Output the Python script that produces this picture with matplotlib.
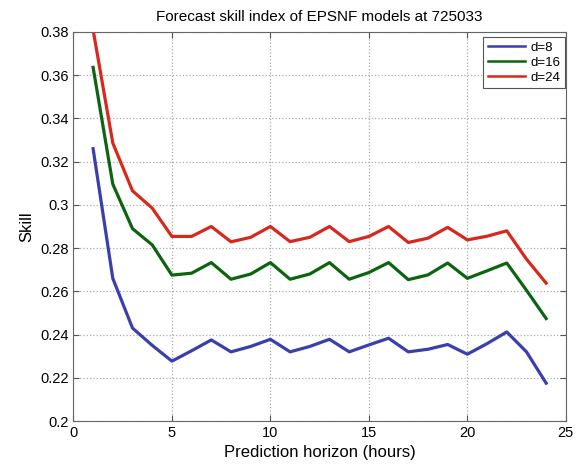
import matplotlib

matplotlib.use("Agg")
import matplotlib.pyplot as plt

# Forecast skill values
hours = list(range(1, 25))
skill_d8 = [0.326, 0.266, 0.243, 0.235, 0.2277, 0.2325, 0.2375, 0.232, 0.2345, 0.2378,
            0.232, 0.2345, 0.2378, 0.232, 0.2352, 0.2383, 0.232, 0.2332, 0.2354, 0.2309,
            0.2358, 0.2412, 0.232, 0.2175]
skill_d16 = [0.3636, 0.3096, 0.289, 0.2815, 0.2675, 0.2684, 0.2733, 0.2656, 0.268, 0.2733,
             0.2656, 0.268, 0.2733, 0.2656, 0.2687, 0.2733, 0.2654, 0.2676, 0.2731, 0.266,
             0.2695, 0.2731, 0.2605, 0.2474]
skill_d24 = [0.381, 0.3286, 0.3065, 0.2985, 0.2854, 0.2854, 0.29, 0.2829, 0.285, 0.29,
             0.283, 0.285, 0.29, 0.283, 0.2854, 0.29, 0.2826, 0.2846, 0.2896, 0.2838,
             0.2855, 0.288, 0.2749, 0.2638]
labels = ["d=8", "d=16", "d=24"]
colors = ["#3b3fae", "#0d6410", "#d8281e"]

plt.rcParams["font.family"] = ["Liberation Sans", "DejaVu Sans"]

fig = plt.figure(figsize=(5.78, 4.67), dpi=100)
ax = fig.add_axes([0.127, 0.0985, 0.852, 0.833])

for ys, lab, col in zip([skill_d8, skill_d16, skill_d24], labels, colors):
    ax.plot(hours, ys, color=col, linewidth=2.3, label=lab)

ax.set_xlim(0, 25)
ax.set_ylim(0.2, 0.38)
ax.set_xticks([0, 5, 10, 15, 20, 25])
ax.set_yticks([0.2, 0.22, 0.24, 0.26, 0.28, 0.3, 0.32, 0.34, 0.36, 0.38])
ax.set_yticklabels(["0.2", "0.22", "0.24", "0.26", "0.28", "0.3", "0.32", "0.34", "0.36", "0.38"])
ax.tick_params(direction="in", top=True, right=True, labelsize=10.5, length=4, color="#555555")
ax.grid(True, linestyle=":", color="#aaaaaa", linewidth=0.9)
for sp in ax.spines.values():
    sp.set_color("#666666")

ax.set_xlabel("Prediction horizon (hours)", fontsize=12)
ax.set_ylabel("Skill", fontsize=12)
ax.set_title("Forecast skill index of EPSNF models at 725033", fontsize=11, pad=8)

leg = ax.legend(loc="upper right", bbox_to_anchor=(0.998, 0.987), borderaxespad=0,
                fontsize=9.5, fancybox=False, framealpha=1, edgecolor="#555555",
                handlelength=2.8, borderpad=0.35, labelspacing=0.2, handletextpad=0.4)
leg.get_frame().set_linewidth(0.8)
for line in leg.get_lines():
    line.set_linewidth(1.8)

fig.savefig("out.png", dpi=100)
